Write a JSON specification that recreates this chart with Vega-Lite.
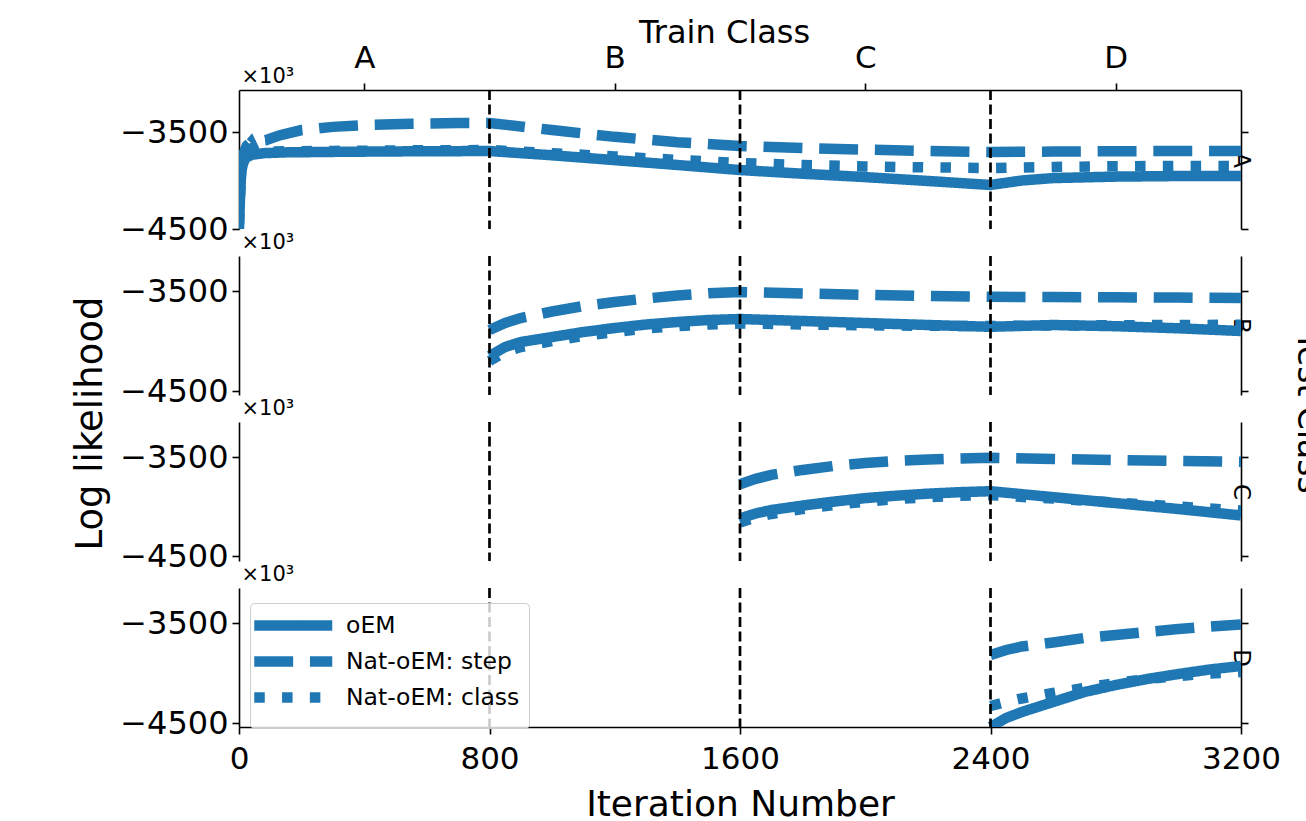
{
"$schema": "https://vega.github.io/schema/vega-lite/v6.json",
"padding": {"left": 70, "top": 16, "right": 0, "bottom": 0},
"background": "white",
"config": {
  "view": {"stroke": null},
  "font": "DejaVu Sans",
  "axis": {"domainColor": "#000", "tickColor": "#000", "labelColor": "#000", "titleColor": "#000", "domainWidth": 1.6, "tickWidth": 1.6, "grid": false, "labelFont": "DejaVu Sans", "titleFont": "DejaVu Sans", "titleFontWeight": "normal", "labelFlush": false, "titlePadding": 0}
},
"datasets": {"ll": [
{"t":"A","s":"oEM","i":0,"v":-4500},{"t":"A","s":"oEM","i":3,"v":-4200},{"t":"A","s":"oEM","i":6,"v":-3980},{"t":"A","s":"oEM","i":10,"v":-3850},{"t":"A","s":"oEM","i":20,"v":-3770},{"t":"A","s":"oEM","i":40,"v":-3735},{"t":"A","s":"oEM","i":80,"v":-3718},{"t":"A","s":"oEM","i":150,"v":-3710},{"t":"A","s":"oEM","i":300,"v":-3705},{"t":"A","s":"oEM","i":500,"v":-3700},{"t":"A","s":"oEM","i":800,"v":-3696},{"t":"A","s":"oEM","i":1000,"v":-3740},{"t":"A","s":"oEM","i":1200,"v":-3790},{"t":"A","s":"oEM","i":1400,"v":-3840},{"t":"A","s":"oEM","i":1600,"v":-3892},{"t":"A","s":"oEM","i":1800,"v":-3930},{"t":"A","s":"oEM","i":2000,"v":-3965},{"t":"A","s":"oEM","i":2200,"v":-4005},{"t":"A","s":"oEM","i":2400,"v":-4046},{"t":"A","s":"oEM","i":2500,"v":-4000},{"t":"A","s":"oEM","i":2600,"v":-3975},{"t":"A","s":"oEM","i":2800,"v":-3960},{"t":"A","s":"oEM","i":3000,"v":-3954},{"t":"A","s":"oEM","i":3200,"v":-3954},
{"t":"A","s":"Nat-oEM: step","i":0,"v":-4000},{"t":"A","s":"Nat-oEM: step","i":10,"v":-3760},{"t":"A","s":"Nat-oEM: step","i":25,"v":-3640},{"t":"A","s":"Nat-oEM: step","i":40,"v":-3600},{"t":"A","s":"Nat-oEM: step","i":85,"v":-3585},{"t":"A","s":"Nat-oEM: step","i":130,"v":-3535},{"t":"A","s":"Nat-oEM: step","i":200,"v":-3480},{"t":"A","s":"Nat-oEM: step","i":300,"v":-3447},{"t":"A","s":"Nat-oEM: step","i":400,"v":-3428},{"t":"A","s":"Nat-oEM: step","i":550,"v":-3415},{"t":"A","s":"Nat-oEM: step","i":700,"v":-3408},{"t":"A","s":"Nat-oEM: step","i":800,"v":-3407},{"t":"A","s":"Nat-oEM: step","i":1000,"v":-3480},{"t":"A","s":"Nat-oEM: step","i":1200,"v":-3550},{"t":"A","s":"Nat-oEM: step","i":1400,"v":-3605},{"t":"A","s":"Nat-oEM: step","i":1600,"v":-3644},{"t":"A","s":"Nat-oEM: step","i":1800,"v":-3665},{"t":"A","s":"Nat-oEM: step","i":2000,"v":-3682},{"t":"A","s":"Nat-oEM: step","i":2200,"v":-3696},{"t":"A","s":"Nat-oEM: step","i":2400,"v":-3706},{"t":"A","s":"Nat-oEM: step","i":2600,"v":-3702},{"t":"A","s":"Nat-oEM: step","i":2800,"v":-3698},{"t":"A","s":"Nat-oEM: step","i":3000,"v":-3696},{"t":"A","s":"Nat-oEM: step","i":3200,"v":-3696},
{"t":"A","s":"Nat-oEM: class","i":0,"v":-4450},{"t":"A","s":"Nat-oEM: class","i":4,"v":-4100},{"t":"A","s":"Nat-oEM: class","i":8,"v":-3900},{"t":"A","s":"Nat-oEM: class","i":15,"v":-3760},{"t":"A","s":"Nat-oEM: class","i":30,"v":-3640},{"t":"A","s":"Nat-oEM: class","i":38,"v":-3610},{"t":"A","s":"Nat-oEM: class","i":50,"v":-3690},{"t":"A","s":"Nat-oEM: class","i":100,"v":-3700},{"t":"A","s":"Nat-oEM: class","i":300,"v":-3695},{"t":"A","s":"Nat-oEM: class","i":500,"v":-3690},{"t":"A","s":"Nat-oEM: class","i":800,"v":-3686},{"t":"A","s":"Nat-oEM: class","i":1000,"v":-3718},{"t":"A","s":"Nat-oEM: class","i":1200,"v":-3752},{"t":"A","s":"Nat-oEM: class","i":1400,"v":-3788},{"t":"A","s":"Nat-oEM: class","i":1600,"v":-3820},{"t":"A","s":"Nat-oEM: class","i":1800,"v":-3840},{"t":"A","s":"Nat-oEM: class","i":2000,"v":-3855},{"t":"A","s":"Nat-oEM: class","i":2200,"v":-3865},{"t":"A","s":"Nat-oEM: class","i":2400,"v":-3871},{"t":"A","s":"Nat-oEM: class","i":2600,"v":-3860},{"t":"A","s":"Nat-oEM: class","i":2800,"v":-3853},{"t":"A","s":"Nat-oEM: class","i":3000,"v":-3850},{"t":"A","s":"Nat-oEM: class","i":3200,"v":-3850},
{"t":"B","s":"Nat-oEM: step","i":800,"v":-3890},{"t":"B","s":"Nat-oEM: step","i":850,"v":-3820},{"t":"B","s":"Nat-oEM: step","i":900,"v":-3770},{"t":"B","s":"Nat-oEM: step","i":1000,"v":-3705},{"t":"B","s":"Nat-oEM: step","i":1100,"v":-3650},{"t":"B","s":"Nat-oEM: step","i":1200,"v":-3610},{"t":"B","s":"Nat-oEM: step","i":1300,"v":-3575},{"t":"B","s":"Nat-oEM: step","i":1400,"v":-3545},{"t":"B","s":"Nat-oEM: step","i":1500,"v":-3522},{"t":"B","s":"Nat-oEM: step","i":1600,"v":-3510},{"t":"B","s":"Nat-oEM: step","i":1800,"v":-3525},{"t":"B","s":"Nat-oEM: step","i":2000,"v":-3538},{"t":"B","s":"Nat-oEM: step","i":2200,"v":-3550},{"t":"B","s":"Nat-oEM: step","i":2400,"v":-3558},{"t":"B","s":"Nat-oEM: step","i":2600,"v":-3560},{"t":"B","s":"Nat-oEM: step","i":2800,"v":-3563},{"t":"B","s":"Nat-oEM: step","i":3000,"v":-3566},{"t":"B","s":"Nat-oEM: step","i":3200,"v":-3570},
{"t":"B","s":"oEM","i":800,"v":-4150},{"t":"B","s":"oEM","i":850,"v":-4060},{"t":"B","s":"oEM","i":900,"v":-4010},{"t":"B","s":"oEM","i":1000,"v":-3960},{"t":"B","s":"oEM","i":1100,"v":-3910},{"t":"B","s":"oEM","i":1200,"v":-3870},{"t":"B","s":"oEM","i":1300,"v":-3835},{"t":"B","s":"oEM","i":1400,"v":-3810},{"t":"B","s":"oEM","i":1500,"v":-3790},{"t":"B","s":"oEM","i":1600,"v":-3780},{"t":"B","s":"oEM","i":1800,"v":-3800},{"t":"B","s":"oEM","i":2000,"v":-3820},{"t":"B","s":"oEM","i":2200,"v":-3840},{"t":"B","s":"oEM","i":2400,"v":-3858},{"t":"B","s":"oEM","i":2600,"v":-3840},{"t":"B","s":"oEM","i":2800,"v":-3852},{"t":"B","s":"oEM","i":3000,"v":-3873},{"t":"B","s":"oEM","i":3200,"v":-3900},
{"t":"B","s":"Nat-oEM: class","i":800,"v":-4200},{"t":"B","s":"Nat-oEM: class","i":850,"v":-4110},{"t":"B","s":"Nat-oEM: class","i":900,"v":-4060},{"t":"B","s":"Nat-oEM: class","i":1000,"v":-4000},{"t":"B","s":"Nat-oEM: class","i":1100,"v":-3950},{"t":"B","s":"Nat-oEM: class","i":1200,"v":-3910},{"t":"B","s":"Nat-oEM: class","i":1300,"v":-3875},{"t":"B","s":"Nat-oEM: class","i":1400,"v":-3850},{"t":"B","s":"Nat-oEM: class","i":1500,"v":-3835},{"t":"B","s":"Nat-oEM: class","i":1600,"v":-3825},{"t":"B","s":"Nat-oEM: class","i":1800,"v":-3835},{"t":"B","s":"Nat-oEM: class","i":2000,"v":-3843},{"t":"B","s":"Nat-oEM: class","i":2200,"v":-3848},{"t":"B","s":"Nat-oEM: class","i":2400,"v":-3850},{"t":"B","s":"Nat-oEM: class","i":2600,"v":-3845},{"t":"B","s":"Nat-oEM: class","i":2800,"v":-3842},{"t":"B","s":"Nat-oEM: class","i":3000,"v":-3840},{"t":"B","s":"Nat-oEM: class","i":3200,"v":-3838},
{"t":"C","s":"Nat-oEM: step","i":1600,"v":-3775},{"t":"C","s":"Nat-oEM: step","i":1650,"v":-3720},{"t":"C","s":"Nat-oEM: step","i":1700,"v":-3680},{"t":"C","s":"Nat-oEM: step","i":1800,"v":-3630},{"t":"C","s":"Nat-oEM: step","i":1900,"v":-3590},{"t":"C","s":"Nat-oEM: step","i":2000,"v":-3560},{"t":"C","s":"Nat-oEM: step","i":2100,"v":-3540},{"t":"C","s":"Nat-oEM: step","i":2200,"v":-3525},{"t":"C","s":"Nat-oEM: step","i":2300,"v":-3515},{"t":"C","s":"Nat-oEM: step","i":2400,"v":-3508},{"t":"C","s":"Nat-oEM: step","i":2600,"v":-3520},{"t":"C","s":"Nat-oEM: step","i":2800,"v":-3530},{"t":"C","s":"Nat-oEM: step","i":3000,"v":-3540},{"t":"C","s":"Nat-oEM: step","i":3200,"v":-3548},
{"t":"C","s":"oEM","i":1600,"v":-4120},{"t":"C","s":"oEM","i":1650,"v":-4070},{"t":"C","s":"oEM","i":1700,"v":-4035},{"t":"C","s":"oEM","i":1800,"v":-3990},{"t":"C","s":"oEM","i":1900,"v":-3950},{"t":"C","s":"oEM","i":2000,"v":-3915},{"t":"C","s":"oEM","i":2100,"v":-3890},{"t":"C","s":"oEM","i":2200,"v":-3870},{"t":"C","s":"oEM","i":2300,"v":-3855},{"t":"C","s":"oEM","i":2400,"v":-3845},{"t":"C","s":"oEM","i":2600,"v":-3905},{"t":"C","s":"oEM","i":2800,"v":-3965},{"t":"C","s":"oEM","i":3000,"v":-4025},{"t":"C","s":"oEM","i":3200,"v":-4090},
{"t":"C","s":"Nat-oEM: class","i":1600,"v":-4160},{"t":"C","s":"Nat-oEM: class","i":1650,"v":-4110},{"t":"C","s":"Nat-oEM: class","i":1700,"v":-4075},{"t":"C","s":"Nat-oEM: class","i":1800,"v":-4025},{"t":"C","s":"Nat-oEM: class","i":1900,"v":-3985},{"t":"C","s":"Nat-oEM: class","i":2000,"v":-3950},{"t":"C","s":"Nat-oEM: class","i":2100,"v":-3925},{"t":"C","s":"Nat-oEM: class","i":2200,"v":-3905},{"t":"C","s":"Nat-oEM: class","i":2300,"v":-3892},{"t":"C","s":"Nat-oEM: class","i":2400,"v":-3885},{"t":"C","s":"Nat-oEM: class","i":2600,"v":-3920},{"t":"C","s":"Nat-oEM: class","i":2800,"v":-3960},{"t":"C","s":"Nat-oEM: class","i":3000,"v":-4000},{"t":"C","s":"Nat-oEM: class","i":3200,"v":-4040},
{"t":"D","s":"Nat-oEM: step","i":2400,"v":-3820},{"t":"D","s":"Nat-oEM: step","i":2450,"v":-3770},{"t":"D","s":"Nat-oEM: step","i":2500,"v":-3735},{"t":"D","s":"Nat-oEM: step","i":2600,"v":-3695},{"t":"D","s":"Nat-oEM: step","i":2700,"v":-3650},{"t":"D","s":"Nat-oEM: step","i":2800,"v":-3620},{"t":"D","s":"Nat-oEM: step","i":2900,"v":-3590},{"t":"D","s":"Nat-oEM: step","i":3000,"v":-3560},{"t":"D","s":"Nat-oEM: step","i":3100,"v":-3535},{"t":"D","s":"Nat-oEM: step","i":3200,"v":-3515},
{"t":"D","s":"oEM","i":2400,"v":-4540},{"t":"D","s":"oEM","i":2450,"v":-4450},{"t":"D","s":"oEM","i":2500,"v":-4390},{"t":"D","s":"oEM","i":2600,"v":-4290},{"t":"D","s":"oEM","i":2700,"v":-4190},{"t":"D","s":"oEM","i":2800,"v":-4120},{"t":"D","s":"oEM","i":2900,"v":-4060},{"t":"D","s":"oEM","i":3000,"v":-4010},{"t":"D","s":"oEM","i":3100,"v":-3965},{"t":"D","s":"oEM","i":3200,"v":-3930},
{"t":"D","s":"Nat-oEM: class","i":2400,"v":-4330},{"t":"D","s":"Nat-oEM: class","i":2450,"v":-4290},{"t":"D","s":"Nat-oEM: class","i":2500,"v":-4255},{"t":"D","s":"Nat-oEM: class","i":2600,"v":-4200},{"t":"D","s":"Nat-oEM: class","i":2700,"v":-4150},{"t":"D","s":"Nat-oEM: class","i":2800,"v":-4100},{"t":"D","s":"Nat-oEM: class","i":2900,"v":-4060},{"t":"D","s":"Nat-oEM: class","i":3000,"v":-4030},{"t":"D","s":"Nat-oEM: class","i":3100,"v":-4005},{"t":"D","s":"Nat-oEM: class","i":3200,"v":-3990}
]},
"data": {"name": "ll"},
"spacing": 27,
"bounds": "flush",
"resolve": {"scale": {"y": "independent"}, "legend": {"strokeDash": "independent"}},
"vconcat": [
{
 "width": 1002, "height": 139,
 "layer": [
  {"transform": [{"filter": "datum.t==='A'"}],
   "mark": {"type": "line", "strokeWidth": 10.5, "color": "#1f77b4", "clip": true},
   "encoding": {
    "x": {"field": "i", "type": "quantitative", "scale": {"domain": [0, 3200], "nice": false, "zero": false},
          "axis": {"orient": "top", "values": [400, 1200, 2000, 2800], "labelExpr": "datum.value==400?'A':datum.value==1200?'B':datum.value==2000?'C':'D'", "tickSize": 7, "labelPadding": 9, "labelFontSize": 31, "title": "Train Class", "titleFontSize": 32, "titleX": 485, "titleY": -48, "titleAlign": "center", "titleBaseline": "alphabetic"}},
    "y": {"field": "v", "type": "quantitative", "scale": {"domain": [-4500, -3067], "nice": false, "zero": false},
          "axis": {"orient": "left", "values": [-3500, -4500], "format": "d", "tickSize": 7, "labelPadding": 4, "labelFontSize": 32, "title": "×10³", "titleAngle": 0, "titleAlign": "left", "titleBaseline": "alphabetic", "titleX": 2, "titleY": -8, "titleFontSize": 21}},
    "strokeDash": {"field": "s", "type": "nominal", "scale": {"domain": ["oEM", "Nat-oEM: step", "Nat-oEM: class"], "range": [[1, 0], [38.9, 16.8], [10.5, 17.3]]}, "legend": null}
   }},
  {"transform": [{"filter": "datum.t==='A'"}],
   "mark": {"type": "line", "strokeOpacity": 0},
   "encoding": {
    "x": {"field": "i", "type": "quantitative", "axis": null},
    "y": {"field": "v", "type": "quantitative", "scale": {"domain": [-4500, -3067], "nice": false, "zero": false},
          "axis": {"orient": "right", "values": [-3500, -4500], "labels": false, "tickSize": 7, "title": "A", "titleAngle": 90, "titleAlign": "center", "titleBaseline": "alphabetic", "titleX": -8, "titleY": 69.5, "titleFontSize": 23}},
    "detail": {"field": "s"}
   }},
  {"data": {"values": [{"b": 800}, {"b": 1600}, {"b": 2400}]},
   "mark": {"type": "rule", "color": "black", "strokeWidth": 2.7, "strokeDash": [10, 4.5], "y2Offset": 27},
   "encoding": {"x": {"field": "b", "type": "quantitative", "axis": null}}}
 ],
 "resolve": {"axis": {"x": "independent", "y": "independent"}}
},
{
 "width": 1002, "height": 139,
 "layer": [
  {"transform": [{"filter": "datum.t==='B'"}],
   "mark": {"type": "line", "strokeWidth": 10.5, "color": "#1f77b4", "clip": true},
   "encoding": {
    "x": {"field": "i", "type": "quantitative", "scale": {"domain": [0, 3200], "nice": false, "zero": false},
          "axis": {"orient": "bottom", "domain": false, "ticks": false, "labels": false, "title": "Log likelihood", "titleAngle": 270, "titleFontSize": 37, "titleX": -138, "titleY": 28, "titleAlign": "center", "titleBaseline": "alphabetic"}},
    "y": {"field": "v", "type": "quantitative", "scale": {"domain": [-4540, -3150], "nice": false, "zero": false},
          "axis": {"orient": "left", "values": [-3500, -4500], "format": "d", "tickSize": 7, "labelPadding": 4, "labelFontSize": 32, "title": "×10³", "titleAngle": 0, "titleAlign": "left", "titleBaseline": "alphabetic", "titleX": 2, "titleY": -8, "titleFontSize": 21}},
    "strokeDash": {"field": "s", "type": "nominal", "scale": {"domain": ["oEM", "Nat-oEM: step", "Nat-oEM: class"], "range": [[1, 0], [38.9, 16.8], [10.5, 17.3]]}, "legend": null}
   }},
  {"transform": [{"filter": "datum.t==='B'"}],
   "mark": {"type": "line", "strokeOpacity": 0},
   "encoding": {
    "x": {"field": "i", "type": "quantitative", "axis": null},
    "y": {"field": "v", "type": "quantitative", "scale": {"domain": [-4540, -3150], "nice": false, "zero": false},
          "axis": {"orient": "right", "values": [-3500, -4500], "labels": false, "tickSize": 7, "title": "B", "titleAngle": 90, "titleAlign": "center", "titleBaseline": "alphabetic", "titleX": -8, "titleY": 69.5, "titleFontSize": 23}},
    "detail": {"field": "s"}
   }},
  {"data": {"values": [{"b": 800}, {"b": 1600}, {"b": 2400}]},
   "mark": {"type": "rule", "color": "black", "strokeWidth": 2.7, "strokeDash": [10, 4.5], "y2Offset": 27},
   "encoding": {"x": {"field": "b", "type": "quantitative", "axis": null}}}
 ],
 "resolve": {"axis": {"x": "independent", "y": "independent"}}
},
{
 "width": 1002, "height": 139,
 "layer": [
  {"transform": [{"filter": "datum.t==='C'"}],
   "mark": {"type": "line", "strokeWidth": 10.5, "color": "#1f77b4", "clip": true},
   "encoding": {
    "x": {"field": "i", "type": "quantitative", "scale": {"domain": [0, 3200], "nice": false, "zero": false},
          "axis": {"orient": "bottom", "domain": false, "ticks": false, "labels": false, "title": "Test Class", "titleAngle": 90, "titleFontSize": 33, "titleX": 1058, "titleY": -149, "titleAlign": "center", "titleBaseline": "alphabetic"}},
    "y": {"field": "v", "type": "quantitative", "scale": {"domain": [-4550, -3146], "nice": false, "zero": false},
          "axis": {"orient": "left", "values": [-3500, -4500], "format": "d", "tickSize": 7, "labelPadding": 4, "labelFontSize": 32, "title": "×10³", "titleAngle": 0, "titleAlign": "left", "titleBaseline": "alphabetic", "titleX": 2, "titleY": -8, "titleFontSize": 21}},
    "strokeDash": {"field": "s", "type": "nominal", "scale": {"domain": ["oEM", "Nat-oEM: step", "Nat-oEM: class"], "range": [[1, 0], [38.9, 16.8], [10.5, 17.3]]}, "legend": null}
   }},
  {"transform": [{"filter": "datum.t==='C'"}],
   "mark": {"type": "line", "strokeOpacity": 0},
   "encoding": {
    "x": {"field": "i", "type": "quantitative", "axis": null},
    "y": {"field": "v", "type": "quantitative", "scale": {"domain": [-4550, -3146], "nice": false, "zero": false},
          "axis": {"orient": "right", "values": [-3500, -4500], "labels": false, "tickSize": 7, "title": "C", "titleAngle": 90, "titleAlign": "center", "titleBaseline": "alphabetic", "titleX": -8, "titleY": 69.5, "titleFontSize": 23}},
    "detail": {"field": "s"}
   }},
  {"data": {"values": [{"b": 800}, {"b": 1600}, {"b": 2400}]},
   "mark": {"type": "rule", "color": "black", "strokeWidth": 2.7, "strokeDash": [10, 4.5], "y2Offset": 27},
   "encoding": {"x": {"field": "b", "type": "quantitative", "axis": null}}}
 ],
 "resolve": {"axis": {"x": "independent", "y": "independent"}}
},
{
 "width": 1002, "height": 139,
 "layer": [
  {"transform": [{"filter": "datum.t==='D'"}],
   "mark": {"type": "line", "strokeWidth": 10.5, "color": "#1f77b4", "clip": true},
   "encoding": {
    "x": {"field": "i", "type": "quantitative", "scale": {"domain": [0, 3200], "nice": false, "zero": false},
          "axis": {"orient": "bottom", "values": [0, 800, 1600, 2400, 3200], "format": "d", "tickSize": 7, "labelPadding": 10, "labelFontSize": 31, "title": "Iteration Number", "titleFontSize": 36, "titleX": 501, "titleY": 88, "titleAlign": "center", "titleBaseline": "alphabetic"}},
    "y": {"field": "v", "type": "quantitative", "scale": {"domain": [-4540, -3150], "nice": false, "zero": false},
          "axis": {"orient": "left", "values": [-3500, -4500], "format": "d", "tickSize": 7, "labelPadding": 4, "labelFontSize": 32, "title": "×10³", "titleAngle": 0, "titleAlign": "left", "titleBaseline": "alphabetic", "titleX": 2, "titleY": -8, "titleFontSize": 21}},
    "strokeDash": {"field": "s", "type": "nominal", "scale": {"domain": ["oEM", "Nat-oEM: step", "Nat-oEM: class"], "range": [[1, 0], [38.9, 16.8], [10.5, 17.3]]},
       "legend": {"orient": "none", "legendX": 11, "legendY": 15, "title": null, "labelFontSize": 23.5, "labelLimit": 400, "labelFont": "DejaVu Sans", "labelColor": "#000", "symbolType": "M-2.28,0H7.47", "symbolSize": 256, "symbolStrokeWidth": 10.5, "symbolStrokeColor": "#1f77b4", "symbolFillColor": "transparent", "labelOffset": 60, "rowPadding": -7, "padding": 9, "strokeColor": "#cccccc", "fillColor": "rgba(255,255,255,0.8)", "cornerRadius": 4}}
   }},
  {"transform": [{"filter": "datum.t==='D'"}],
   "mark": {"type": "line", "strokeOpacity": 0},
   "encoding": {
    "x": {"field": "i", "type": "quantitative", "axis": null},
    "y": {"field": "v", "type": "quantitative", "scale": {"domain": [-4540, -3150], "nice": false, "zero": false},
          "axis": {"orient": "right", "values": [-3500, -4500], "labels": false, "tickSize": 7, "title": "D", "titleAngle": 90, "titleAlign": "center", "titleBaseline": "alphabetic", "titleX": -8, "titleY": 69.5, "titleFontSize": 23}},
    "detail": {"field": "s"}
   }},
  {"data": {"values": [{"b": 800}, {"b": 1600}, {"b": 2400}]},
   "mark": {"type": "rule", "color": "black", "strokeWidth": 2.7, "strokeDash": [10, 4.5]},
   "encoding": {"x": {"field": "b", "type": "quantitative", "axis": null}}}
 ],
 "resolve": {"axis": {"x": "independent", "y": "independent"}}
}
]
}
